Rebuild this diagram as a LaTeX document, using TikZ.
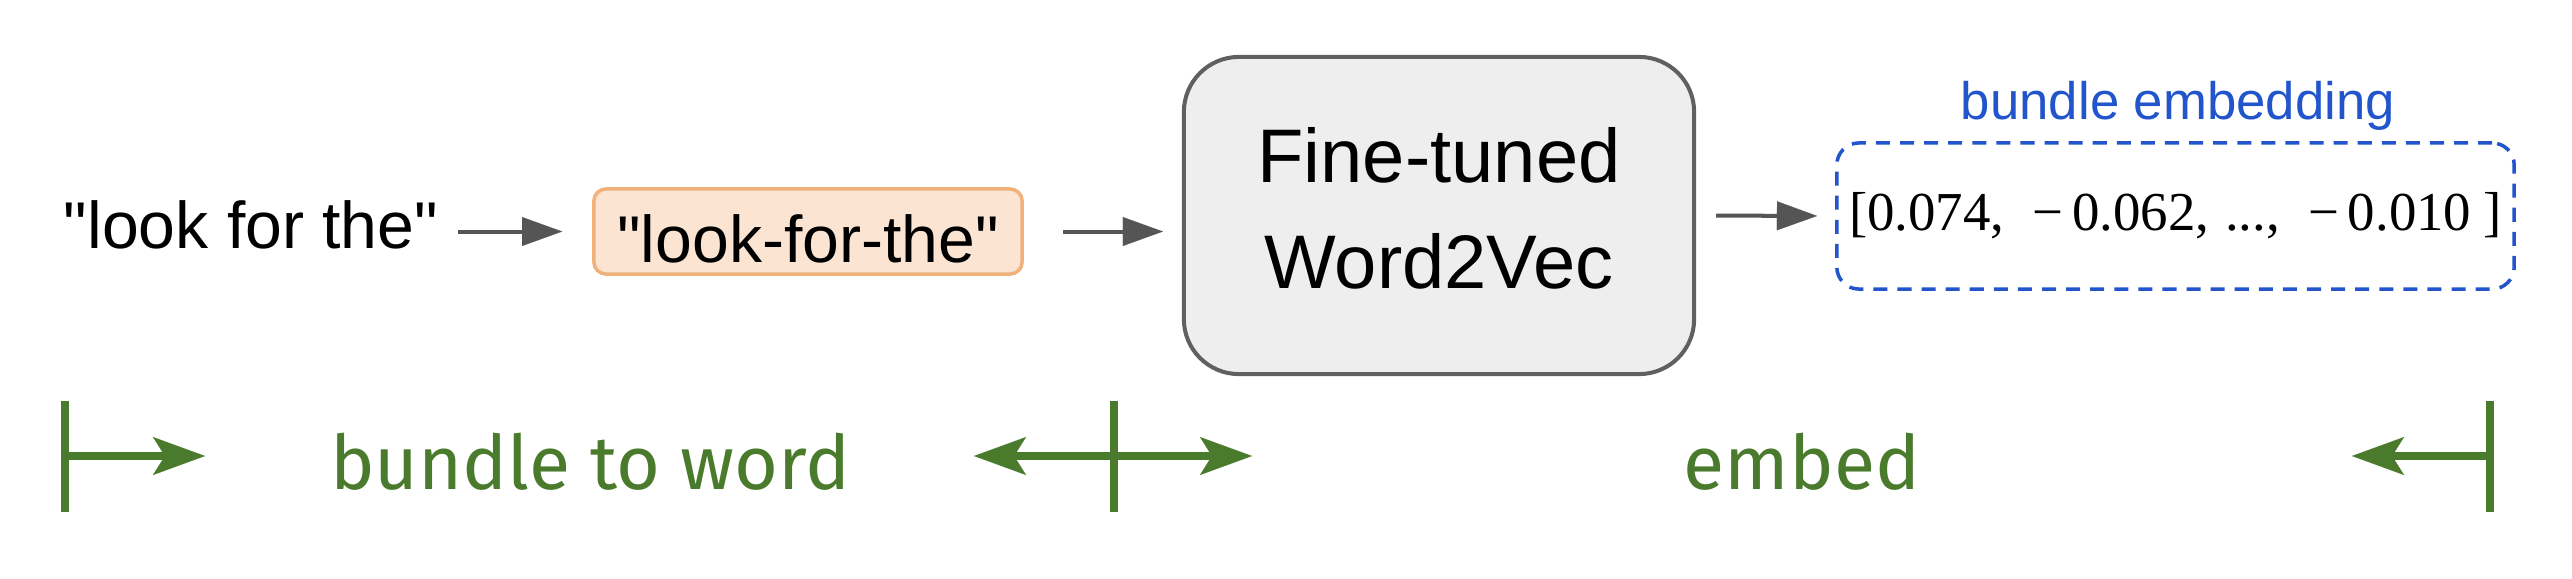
\documentclass[tikz,border=0pt]{standalone}
\usepackage{fontspec}
\setmainfont{Liberation Sans}[Ligatures=TeXOff]
\newfontfamily\vecfont{Liberation Serif}
\newfontfamily\handfont{Fira Sans}
\usetikzlibrary{arrows.meta}
\definecolor{grn}{RGB}{74,122,44}
\definecolor{arrgray}{RGB}{85,85,85}
\definecolor{boxgray}{RGB}{96,96,96}
\definecolor{boxfill}{RGB}{238,238,238}
\definecolor{orgline}{RGB}{240,178,122}
\definecolor{orgfill}{RGB}{251,229,210}
\definecolor{blu}{RGB}{34,85,204}
\tikzset{
  plaintext/.style={font=\fontsize{18.8pt}{22pt}\selectfont, inner sep=0pt},
  orangebox/.style={draw=orgline, fill=orgfill, line width=1pt, rounded corners=0.12cm,
    minimum width=4.28cm, minimum height=0.85cm, inner sep=0pt,
    font=\fontsize{18.8pt}{22pt}\selectfont, text height=17.4pt, text depth=0pt},
  graybox/.style={draw=boxgray, fill=boxfill, line width=1.14pt, rounded corners=0.55cm,
    minimum width=5.10cm, minimum height=3.17cm, inner sep=0pt, align=center,
    font=\fontsize{21.6pt}{30.4pt}\selectfont},
  bluebox/.style={draw=blu, line width=1pt, dash pattern=on 4pt off 2.85pt, rounded corners=0.22cm,
    minimum width=6.77cm, minimum height=1.46cm, inner sep=0pt,
    font=\vecfont\fontsize{15.6pt}{18pt}\selectfont},
  bluelabel/.style={font=\fontsize{15pt}{18pt}\selectfont, text=blu, inner sep=0pt},
  grayarrow/.style={draw=arrgray, line width=1.14pt,
    -{Triangle[length=11.4pt, width=8.25pt, line width=0.01pt]}},
  greenbar/.style={draw=grn, line width=2.28pt},
  greenarrow/.style={draw=grn, line width=2.28pt,
    -{Stealth[length=14.8pt, width=10.8pt, inset=3.4pt, line width=0.01pt]}},
  handtext/.style={font=\handfont\fontsize{21.4pt}{24pt}\selectfont, text=grn, inner sep=0pt}
}
\begin{document}
\begin{tikzpicture}[x=0.01cm, y=-0.01cm]
\useasboundingbox (0,0) rectangle (2572,578);

% top row
\node[plaintext, anchor=base] (n1) at (251,248) {"look for the"};
\node[orangebox] (lft) at (808,231.5) {"look-for-the"};
\node[graybox] (w2v) at (1439,215.5) {Fine-tuned\\Word2Vec\rule[-4.3pt]{0pt}{1pt}};
\node[bluebox] (vec) at (2175.5,216) {[0.074,\hspace{8pt}\char"2212\hspace{2.5pt}0.062,\hspace{4.5pt}...,\hspace{8pt}\char"2212\hspace{2.5pt}0.010\hspace{3.5pt}]};
\node[bluelabel, anchor=base] (lbl) at (2178,119) {bundle embedding};

\draw[grayarrow, shorten <=0.19cm, shorten >=0.30cm] (n1.east |- lft.west) -- (lft.west);
\draw[grayarrow, shorten <=0.39cm, shorten >=0.19cm] (lft.east) -- (w2v.west |- lft.east);
\draw[grayarrow, shorten <=0.20cm, shorten >=0.18cm] (w2v.east) -- (vec.west);

% bottom row
\coordinate (b1t) at (65,401);   \coordinate (b1b) at (65,512);   \coordinate (b1m) at (65,456);
\coordinate (b2t) at (1114,401); \coordinate (b2b) at (1114,512); \coordinate (b2m) at (1114,456);
\coordinate (b3t) at (2490,401); \coordinate (b3b) at (2490,512); \coordinate (b3m) at (2490,456);
\coordinate (t1) at (205,456);
\coordinate (t2l) at (974,456);
\coordinate (t2r) at (1252,456);
\coordinate (t3) at (2352,456);

\draw[greenbar] (b1t) -- (b1b);
\draw[greenbar] (b2t) -- (b2b);
\draw[greenbar] (b3t) -- (b3b);
\draw[greenarrow] (b1m) -- (t1);
\draw[greenarrow] (b2m) -- (t2l);
\draw[greenarrow] (b2m) -- (t2r);
\draw[greenarrow] (b3m) -- (t3);

\node[handtext, anchor=base] (bw) at (590,489) {bundle to word};
\node[handtext, anchor=base] (em) at (1802,489) {embed};
\end{tikzpicture}
\end{document}
